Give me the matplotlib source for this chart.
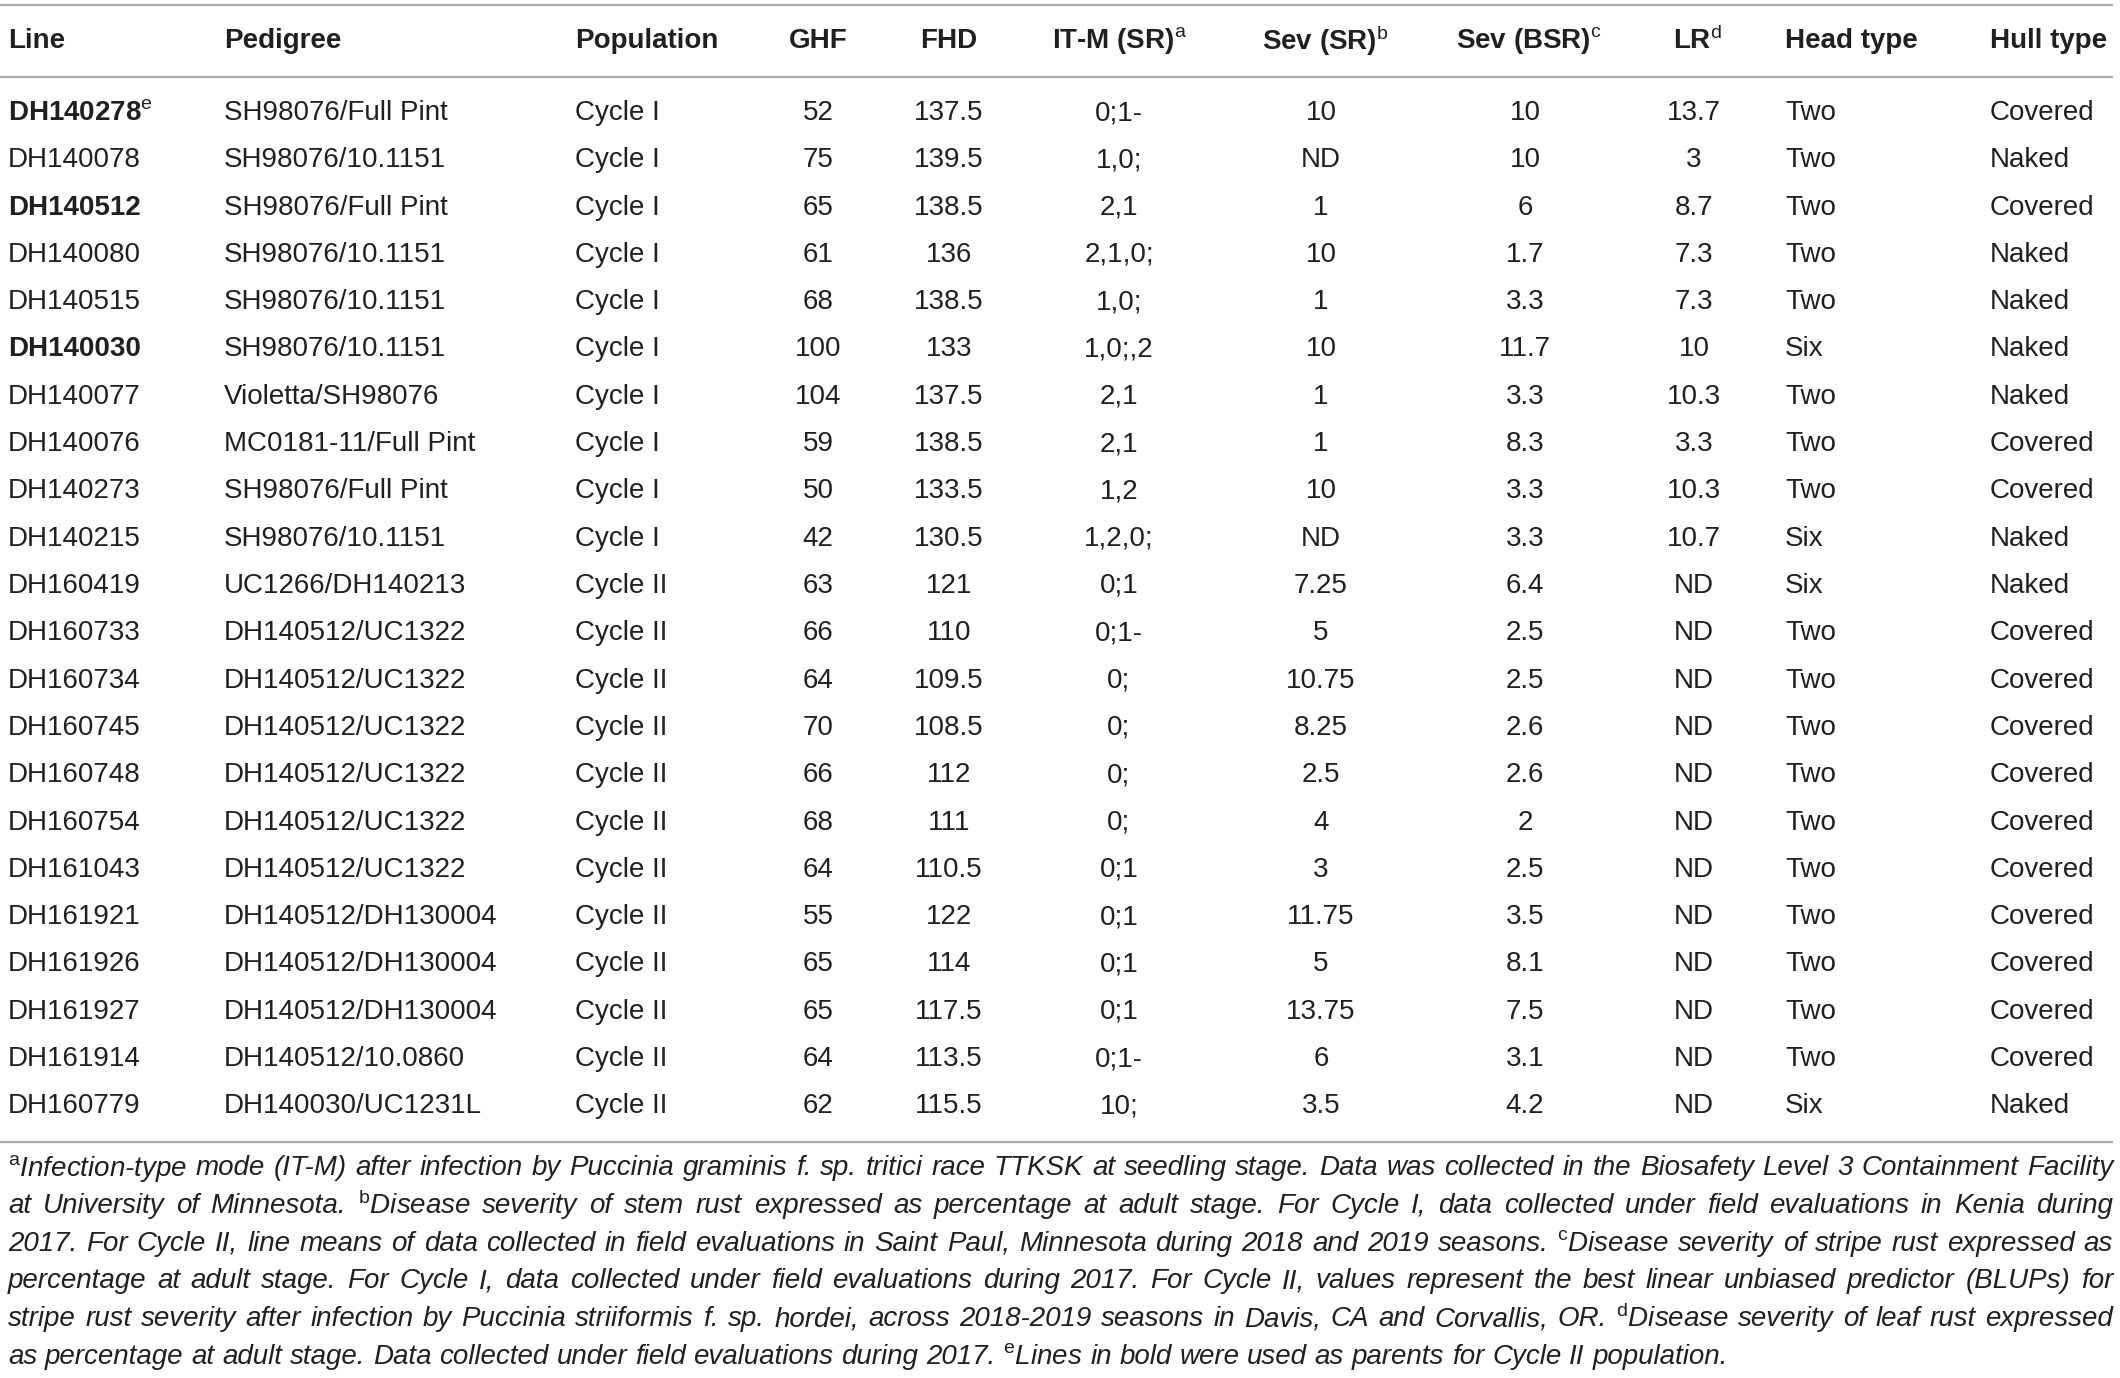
import matplotlib
matplotlib.use("Agg")
import matplotlib.pyplot as plt

plt.rcParams['font.family'] = ['Liberation Sans', 'DejaVu Sans']
plt.rcParams['mathtext.fontset'] = 'custom'
plt.rcParams['mathtext.rm'] = 'Liberation Sans'
plt.rcParams['mathtext.it'] = 'Liberation Sans:italic'

# table content
headers = ["Line", "Pedigree", "Population", "GHF", "FHD", "IT-M (SR)$^{\\mathrm{a}}$",
           "Sev (SR)$^{\\mathrm{b}}$", "Sev (BSR)$^{\\mathrm{c}}$", "LR$^{\\mathrm{d}}$",
           "Head type", "Hull type"]
lines = ["DH140278", "DH140078", "DH140512", "DH140080", "DH140515", "DH140030",
         "DH140077", "DH140076", "DH140273", "DH140215", "DH160419", "DH160733",
         "DH160734", "DH160745", "DH160748", "DH160754", "DH161043", "DH161921",
         "DH161926", "DH161927", "DH161914", "DH160779"]
parents = ["DH140278", "DH140512", "DH140030"]
pedigree = ["SH98076/Full Pint", "SH98076/10.1151", "SH98076/Full Pint", "SH98076/10.1151",
            "SH98076/10.1151", "SH98076/10.1151", "Violetta/SH98076", "MC0181-11/Full Pint",
            "SH98076/Full Pint", "SH98076/10.1151", "UC1266/DH140213", "DH140512/UC1322",
            "DH140512/UC1322", "DH140512/UC1322", "DH140512/UC1322", "DH140512/UC1322",
            "DH140512/UC1322", "DH140512/DH130004", "DH140512/DH130004", "DH140512/DH130004",
            "DH140512/10.0860", "DH140030/UC1231L"]
population = ["Cycle I"] * 10 + ["Cycle II"] * 12
ghf = ["52", "75", "65", "61", "68", "100", "104", "59", "50", "42", "63", "66",
       "64", "70", "66", "68", "64", "55", "65", "65", "64", "62"]
fhd = ["137.5", "139.5", "138.5", "136", "138.5", "133", "137.5", "138.5", "133.5",
       "130.5", "121", "110", "109.5", "108.5", "112", "111", "110.5", "122", "114",
       "117.5", "113.5", "115.5"]
it_m = ["0;1-", "1,0;", "2,1", "2,1,0;", "1,0;", "1,0;,2", "2,1", "2,1", "1,2",
        "1,2,0;", "0;1", "0;1-", "0;", "0;", "0;", "0;", "0;1", "0;1", "0;1", "0;1",
        "0;1-", "10;"]
sev_sr = ["10", "ND", "1", "10", "1", "10", "1", "1", "10", "ND", "7.25", "5",
          "10.75", "8.25", "2.5", "4", "3", "11.75", "5", "13.75", "6", "3.5"]
sev_bsr = ["10", "10", "6", "1.7", "3.3", "11.7", "3.3", "8.3", "3.3", "3.3", "6.4",
           "2.5", "2.5", "2.6", "2.6", "2", "2.5", "3.5", "8.1", "7.5", "3.1", "4.2"]
lr = ["13.7", "3", "8.7", "7.3", "7.3", "10", "10.3", "3.3", "10.3", "10.7"] + ["ND"] * 12
head_type = ["Two", "Two", "Two", "Two", "Two", "Six", "Two", "Two", "Two", "Six", "Six",
             "Two", "Two", "Two", "Two", "Two", "Two", "Two", "Two", "Two", "Two", "Six"]
hull_type = ["Covered", "Naked", "Covered", "Naked", "Naked", "Naked", "Naked", "Covered",
             "Covered", "Naked", "Naked", "Covered", "Covered", "Covered", "Covered",
             "Covered", "Covered", "Covered", "Covered", "Covered", "Covered", "Naked"]

footnote = [
    "$^{\\mathrm{a}}$Infection-type mode (IT-M) after infection by Puccinia graminis f. sp. tritici race TTKSK at seedling stage. Data was collected in the Biosafety Level 3 Containment Facility",
    "at University of Minnesota. $^{\\mathrm{b}}$Disease severity of stem rust expressed as percentage at adult stage. For Cycle I, data collected under field evaluations in Kenia during",
    "2017. For Cycle II, line means of data collected in field evaluations in Saint Paul, Minnesota during 2018 and 2019 seasons. $^{\\mathrm{c}}$Disease severity of stripe rust expressed as",
    "percentage at adult stage. For Cycle I, data collected under field evaluations during 2017. For Cycle II, values represent the best linear unbiased predictor (BLUPs) for",
    "stripe rust severity after infection by Puccinia striiformis f. sp. hordei, across 2018-2019 seasons in Davis, CA and Corvallis, OR. $^{\\mathrm{d}}$Disease severity of leaf rust expressed",
    "as percentage at adult stage. Data collected under field evaluations during 2017. $^{\\mathrm{e}}$Lines in bold were used as parents for Cycle II population.",
]

TXT = '#231f20'
RULE = '#aaaaaa'
FS = 20

W, H = 2120, 1378
fig = plt.figure(figsize=(W / 100, H / 100), dpi=100)
ax = fig.add_axes([0, 0, 1, 1])
ax.set_xlim(0, W)
ax.set_ylim(H, 0)
ax.axis('off')

# column anchors (x, alignment)
cols = [(8, 'left'), (224, 'left'), (575, 'left'), (818, 'center'), (949, 'center'),
        (1119, 'center'), (1321, 'center'), (1525, 'center'), (1694, 'center'),
        (1785, 'left'), (1990, 'left')]
hdr_shift = [0, 0, 0, 0, 0, 0, 4, 4, 3, 0, 0]

for rule_y in (5, 77, 1142):
    ax.plot([0, 2113], [rule_y, rule_y], color=RULE, lw=1.6, solid_capstyle='butt')

for j, h in enumerate(headers):
    x, ha = cols[j]
    ax.text(x + hdr_shift[j], 41, h, ha=ha, va='center', fontsize=FS,
            fontweight='bold', color=TXT)

columns = [lines, pedigree, population, ghf, fhd, it_m, sev_sr, sev_bsr, lr,
           head_type, hull_type]
row0, step = 113, 47.3
for i in range(len(lines)):
    y = row0 + i * step
    for j, col in enumerate(columns):
        x, ha = cols[j]
        val = col[i]
        weight = 'normal'
        if j == 0 and val in parents:
            weight = 'bold'
            if val == "DH140278":
                val = val + "$^{\\mathrm{e}}$"
        ax.text(x, y, val, ha=ha, va='center', fontsize=FS, fontweight=weight, color=TXT)

# justified footnote
fig.canvas.draw()
renderer = fig.canvas.get_renderer()


def width_of(s):
    t = ax.text(0, 600, s, fontsize=FS, style='italic')
    w = t.get_window_extent(renderer).width
    t.remove()
    return w


space_w = width_of('a b') - width_of('ab')
left, right = 8, 2113
fy0, fstep = 1168, 37.8
for k, line in enumerate(footnote):
    y = fy0 + k * fstep
    words = line.split(' ')
    objs = [ax.text(0, y, w, ha='left', va='center', fontsize=FS, style='italic',
                    color=TXT) for w in words]
    widths = [o.get_window_extent(renderer).width for o in objs]
    if k < len(footnote) - 1:
        gap = (right - left - sum(widths)) / (len(words) - 1)
    else:
        gap = space_w
    x = left
    for o, w in zip(objs, widths):
        o.set_x(x)
        x += w + gap

fig.savefig('out.png', dpi=100)
